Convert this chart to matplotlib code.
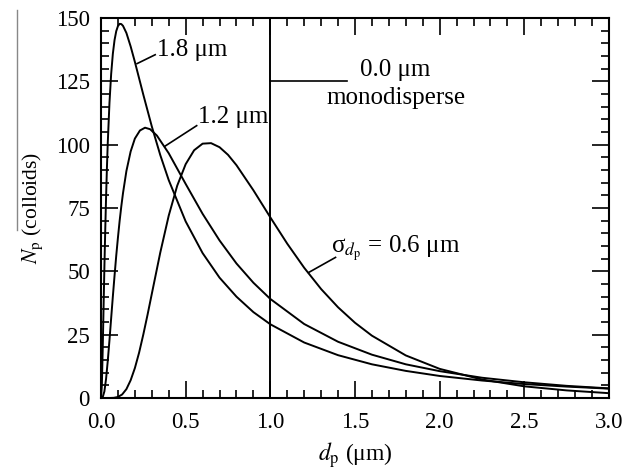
import matplotlib
matplotlib.use("Agg")
import matplotlib.pyplot as plt
from matplotlib.lines import Line2D
from matplotlib.ticker import MultipleLocator

plt.rcParams['font.family'] = ['Liberation Serif', 'DejaVu Serif']
plt.rcParams['mathtext.fontset'] = 'stix'

# sigma_dp = 1.8 um
x_18 = [0.0, 0.005, 0.01, 0.015, 0.02, 0.025, 0.03, 0.035, 0.04, 0.05, 0.06, 0.07,
        0.08, 0.09, 0.10, 0.11, 0.12, 0.13, 0.15, 0.175, 0.2, 0.25, 0.3, 0.35,
        0.4, 0.5, 0.6, 0.7, 0.8, 0.9, 1.0, 1.2, 1.4, 1.6, 1.8, 2.0,
        2.25, 2.5, 2.75, 3.0]
n_18 = [0.0, 5.0, 18.9, 35.3, 51.5, 66.2, 79.3, 90.9, 100.8, 116.5, 127.9, 135.9,
        141.3, 144.8, 146.8, 147.7, 147.6, 146.9, 144.1, 138.8, 132.7, 119.7, 107.2, 95.9,
        86.0, 69.7, 57.2, 47.5, 40.0, 33.9, 29.1, 21.9, 16.9, 13.3, 10.7, 8.7,
        6.9, 5.5, 4.5, 3.7]

# sigma_dp = 1.2 um
x_12 = [0.0, 0.01, 0.02, 0.03, 0.04, 0.05, 0.06, 0.07, 0.08, 0.09, 0.10, 0.11,
        0.12, 0.13, 0.15, 0.175, 0.2, 0.23, 0.26, 0.29, 0.33, 0.4, 0.5, 0.6,
        0.7, 0.8, 0.9, 1.0, 1.2, 1.4, 1.6, 1.8, 2.0, 2.25, 2.5, 2.75, 3.0]
n_12 = [0.0, 0.3, 2.6, 7.6, 14.7, 22.8, 31.5, 40.1, 48.3, 56.2, 63.3, 69.9,
        75.7, 80.9, 89.6, 97.3, 102.4, 105.6, 106.7, 106.1, 103.6, 96.6, 84.5, 72.7,
        62.2, 53.1, 45.5, 39.1, 29.2, 22.2, 17.1, 13.3, 10.6, 8.0, 6.2, 4.8, 3.8]

# sigma_dp = 0.6 um
x_06 = [0.0, 0.05, 0.075, 0.1, 0.125, 0.15, 0.175, 0.2, 0.225, 0.25, 0.275, 0.3,
        0.35, 0.4, 0.45, 0.5, 0.55, 0.6, 0.65, 0.7, 0.75, 0.8, 0.9, 1.0,
        1.1, 1.2, 1.3, 1.4, 1.5, 1.6, 1.8, 2.0, 2.25, 2.5, 2.75, 3.0]
n_06 = [0.0, 0.0, 0.06, 0.4, 1.4, 3.5, 7.0, 11.8, 17.9, 25.1, 32.9, 41.1,
        57.4, 72.0, 83.8, 92.3, 97.8, 100.4, 100.6, 99.0, 96.0, 91.9, 82.0, 71.3,
        60.9, 51.4, 43.0, 35.8, 29.7, 24.6, 16.8, 11.5, 7.3, 4.6, 3.0, 1.9]

mono_d = 1.0

fig = plt.figure(figsize=(6.39, 4.73), dpi=100)
ax = fig.add_axes([101 / 639, 75 / 473, 508 / 639, 380 / 473])

lw = 1.4
ax.plot(x_18, n_18, color='black', lw=lw)
ax.plot(x_12, n_12, color='black', lw=lw)
ax.plot(x_06, n_06, color='black', lw=lw)
ax.axvline(mono_d, color='black', lw=lw)

ax.set_xlim(0, 3.0)
ax.set_ylim(0, 150)
ax.xaxis.set_major_locator(MultipleLocator(0.5))
ax.xaxis.set_minor_locator(MultipleLocator(0.1))
ax.yaxis.set_major_locator(MultipleLocator(25))
ax.yaxis.set_minor_locator(MultipleLocator(5))
ax.xaxis.set_major_formatter(lambda v, p: f'{v:.1f}')
ax.tick_params(which='both', direction='in', top=True, right=True,
               labelsize=16.5, width=1.2)
ax.tick_params(which='major', length=12)
ax.tick_params(which='minor', length=6)
ax.tick_params(axis='x', which='major', pad=10)
ax.tick_params(axis='y', which='major', pad=8)
for s in ax.spines.values():
    s.set_linewidth(1.5)

ax.set_xlabel(r'$d_{\rm p}$ (μm)', fontsize=17, labelpad=5)
ax.set_ylabel(r'$N_{\rm p}$ (colloids)', fontsize=15.5, labelpad=8)

# annotations with leader lines
fs = 18
ax.plot([0.213, 0.32], [132, 135.5], color='black', lw=1.2)
ax.text(0.33, 137.5, '1.8 μm', fontsize=fs, va='center', ha='left')
ax.plot([0.38, 0.565], [99.5, 107.5], color='black', lw=1.2)
ax.text(0.57, 111, '1.2 μm', fontsize=fs, va='center', ha='left')
ax.plot([1.0, 1.455], [125, 125], color='black', lw=1.2)
ax.text(1.527, 129.3, '0.0 μm', fontsize=fs, va='center', ha='left')
ax.text(1.33, 118.4, 'monodisperse', fontsize=fs, va='center', ha='left')
ax.plot([1.225, 1.385], [49.5, 55.5], color='black', lw=1.2)
ax.text(1.36, 59.2, r'σ$_{d_{\rm p}}$ = 0.6 μm', fontsize=fs, va='center', ha='left')

# faint edge line seen on the left of the scan
fig.add_artist(Line2D([16.5 / 639, 16.5 / 639], [1 - 10 / 473, 1 - 230 / 473],
                      color='#888888', lw=1.0))

fig.savefig('out.png', dpi=100)
